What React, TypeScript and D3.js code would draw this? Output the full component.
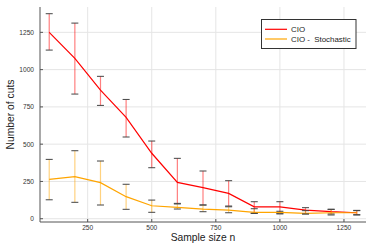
import React from "react";
import * as d3 from "d3";

// sample sizes
const sampleSizes = [100, 200, 300, 400, 500, 600, 700, 800, 900, 1000, 1100, 1200, 1300];

// CIO
const cioMean = [1250, 1076, 863, 680, 439, 244, 208, 170, 80, 80, 58, 47, 40];
const cioLow = [1131, 836, 760, 548, 342, 103, 92, 85, 36, 36, 32, 32, 25];
const cioHigh = [1375, 1312, 955, 800, 521, 405, 320, 255, 114, 114, 74, 63, 56];

// CIO - Stochastic
const stoMean = [264, 282, 242, 148, 87, 76, 65, 58, 43, 43, 36, 40, 40];
const stoLow = [127, 110, 92, 63, 43, 65, 47, 40, 36, 32, 32, 25, 27];
const stoHigh = [398, 456, 387, 231, 125, 99, 92, 80, 67, 50, 54, 63, 54];

const xTicks = [250, 500, 750, 1000, 1250];
const yTicks = [0, 250, 500, 750, 1000, 1250];

const seriesNames = ["CIO", "CIO -  Stochastic"];
const seriesColors = ["#ff0000", "#ffa500"];

const W = 374, H = 249;
const left = 40, right = 366, top = 7, bottom = 222;
const font = "'Liberation Sans', Arial, sans-serif";

export default function App() {
  const x = d3.scaleLinear().domain([64, 1336]).range([left, right]);
  const y = d3.scaleLinear().domain([-22, 1420]).range([bottom, top]);

  const line = d3.line<number>()
    .x((d, i) => x(sampleSizes[i]))
    .y((d) => y(d));

  const series = [
    { mean: cioMean, low: cioLow, high: cioHigh },
    { mean: stoMean, low: stoLow, high: stoHigh },
  ];

  return (
    <svg width={W} height={H} style={{ position: "absolute", left: 0, top: 0 }}>
      <rect width={W} height={H} fill="#fff" />
      {/* grid */}
      {xTicks.map((t) => (
        <line key={"gx" + t} x1={x(t)} x2={x(t)} y1={top} y2={bottom} stroke="#e5e5e5" strokeWidth={1} />
      ))}
      {yTicks.map((t) => (
        <line key={"gy" + t} x1={left} x2={right} y1={y(t)} y2={y(t)} stroke="#e5e5e5" strokeWidth={1} />
      ))}
      {/* axes */}
      <line x1={left} x2={left} y1={top} y2={bottom} stroke="#555" strokeWidth={1} />
      <line x1={left} x2={right} y1={bottom} y2={bottom} stroke="#555" strokeWidth={1} />
      {xTicks.map((t) => (
        <g key={"tx" + t}>
          <line x1={x(t)} x2={x(t)} y1={bottom} y2={bottom - 3} stroke="#555" />
          <text x={x(t)} y={bottom + 7.5} fontSize={6.6} textAnchor="middle" fill="#333" fontFamily={font}>{t}</text>
        </g>
      ))}
      {yTicks.map((t) => (
        <g key={"ty" + t}>
          <line x1={left} x2={left + 3} y1={y(t)} y2={y(t)} stroke="#555" />
          <text x={left - 6} y={y(t) + 2.4} fontSize={6.6} textAnchor="end" fill="#333" fontFamily={font}>{t}</text>
        </g>
      ))}
      {/* series */}
      {series.map((s, k) => (
        <g key={"s" + k}>
          <path d={line(s.mean) || ""} fill="none" stroke={seriesColors[k]} strokeWidth={1.2} />
          {sampleSizes.map((n, i) => (
            <g key={i}>
              <line x1={x(n)} x2={x(n)} y1={y(s.low[i])} y2={y(s.high[i])} stroke={seriesColors[k]} strokeOpacity={0.5} strokeWidth={1.2} />
              <line x1={x(n) - 3.5} x2={x(n) + 3.5} y1={y(s.low[i])} y2={y(s.low[i])} stroke="#444" strokeWidth={1} />
              <line x1={x(n) - 3.5} x2={x(n) + 3.5} y1={y(s.high[i])} y2={y(s.high[i])} stroke="#444" strokeWidth={1} />
            </g>
          ))}
        </g>
      ))}
      {/* axis labels */}
      <text x={(left + right) / 2} y={241} fontSize={10.3} textAnchor="middle" fill="#222" fontFamily={font}>Sample size n</text>
      <text transform={`translate(14,${(top + bottom) / 2}) rotate(-90)`} fontSize={10.3} textAnchor="middle" fill="#222" fontFamily={font}>Number of cuts</text>
      {/* legend */}
      <rect x={261.5} y={19.5} width={94.5} height={29} fill="#fff" stroke="#333" strokeWidth={1} />
      {seriesNames.map((name, k) => (
        <g key={"l" + k}>
          <line x1={265} x2={287} y1={29.3 + k * 9.7} y2={29.3 + k * 9.7} stroke={seriesColors[k]} strokeWidth={1.2} />
          <text x={291} y={32 + k * 9.7} fontSize={7.9} fill="#222" fontFamily={font} style={{ whiteSpace: "pre" }}>{name}</text>
        </g>
      ))}
    </svg>
  );
}
